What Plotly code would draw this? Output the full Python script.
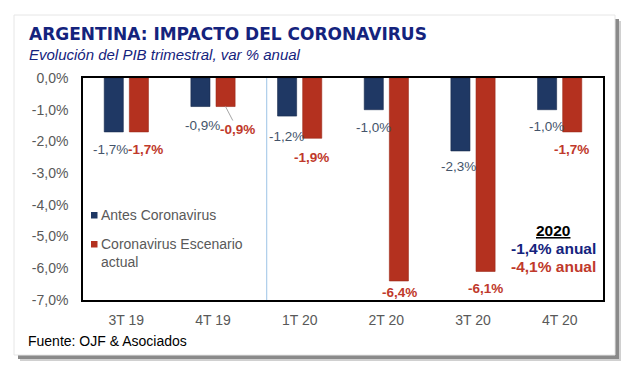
import plotly.graph_objects as go

# ---- data ----
categories = ["3T 19", "4T 19", "1T 20", "2T 20", "3T 20", "4T 20"]
antes = [-1.7, -0.9, -1.2, -1.0, -2.3, -1.0]
escenario = [-1.7, -0.9, -1.9, -6.4, -6.1, -1.7]
y_tickvals = [0, -1, -2, -3, -4, -5, -6, -7]
y_ticktext = ["0,0%", "-1,0%", "-2,0%", "-3,0%", "-4,0%", "-5,0%", "-6,0%", "-7,0%"]
series_names = ["Antes Coronavirus", "Coronavirus Escenario<br>actual"]

# label pixel offsets (style only)
blue_dx = [-16, -11, -13, -13, -15, -13]
blue_dy = [18, 19, 20, 18, 16, 17]
red_dx = [19, 12, 12, 13, 12, 12]
red_dy = [18, 23, 19, 12, 17, 18]
leader = [False, True, False, False, False, False]

BLUE = "#1f3864"
RED = "#b4311f"
BLUE_TXT = "#44546a"
RED_TXT = "#c0392b"
GRAY = "#595959"
NAVY = "#14237d"

W, H = 630, 370
ML, MR, MT, MB = 83, 27, 78, 70
PW = W - ML - MR
PH = H - MT - MB


def px(x):
    return (x - ML) / PW


def py(y):
    return (H - MB - y) / PH


def fmt(v):
    return ("%.1f%%" % v).replace(".", ",")


fig = go.Figure()
fig.add_trace(go.Bar(x=categories, y=antes, name=series_names[0],
                     marker=dict(color=BLUE, line=dict(color="#172a4d", width=0.6))))
fig.add_trace(go.Bar(x=categories, y=escenario, name=series_names[1],
                     marker=dict(color=RED, line=dict(color="#9c2a1a", width=0.6))))

LBL_FONT = "Liberation Sans, Arial"
ann = []
for i, c in enumerate(categories):
    ann.append(dict(x=c, y=antes[i], xref="x", yref="y", text=fmt(antes[i]),
                    showarrow=False, xshift=blue_dx[i], yshift=-blue_dy[i],
                    font=dict(family=LBL_FONT, size=13.5, color=BLUE_TXT)))
    if leader[i]:
        ann.append(dict(x=c, y=escenario[i], xref="x", yref="y", text="<b>" + fmt(escenario[i]) + "</b>",
                        showarrow=True, arrowhead=0, arrowwidth=1, arrowcolor="#a6a6a6",
                        ax=red_dx[i], ay=red_dy[i], xshift=12.5, standoff=0,
                        font=dict(family=LBL_FONT, size=13.5, color=RED_TXT)))
    else:
        ann.append(dict(x=c, y=escenario[i], xref="x", yref="y", text="<b>" + fmt(escenario[i]) + "</b>",
                        showarrow=False, xshift=red_dx[i], yshift=-red_dy[i],
                        font=dict(family=LBL_FONT, size=13.5, color=RED_TXT)))

# titles
ann.append(dict(x=px(27), y=py(34), xref="paper", yref="paper", xanchor="left", yanchor="middle",
                text="<b>ARGENTINA: IMPACTO DEL CORONAVIRUS</b>", showarrow=False,
                font=dict(family="DejaVu Sans", size=17, color=NAVY)))
ann.append(dict(x=px(27), y=py(55), xref="paper", yref="paper", xanchor="left", yanchor="middle",
                text="<i>Evolución del PIB trimestral, var % anual</i>", showarrow=False,
                font=dict(family="Liberation Sans, Arial", size=15, color=NAVY)))
ann.append(dict(x=px(26), y=py(341), xref="paper", yref="paper", xanchor="left", yanchor="middle",
                text="Fuente: OJF & Asociados", showarrow=False,
                font=dict(family="Liberation Sans, Arial", size=14, color="#000000")))

# legend (custom)
ann.append(dict(x=px(99), y=py(215), xref="paper", yref="paper", xanchor="left", yanchor="middle",
                text=series_names[0], showarrow=False,
                font=dict(family="Liberation Sans, Arial", size=14, color=GRAY)))
ann.append(dict(x=px(99), y=py(252.5), xref="paper", yref="paper", xanchor="left", yanchor="middle",
                text=series_names[1], showarrow=False, align="left",
                font=dict(family="Liberation Sans, Arial", size=14, color=GRAY)))

# 2020 summary
ann.append(dict(x=px(553), y=py(230), xref="paper", yref="paper", xanchor="center", yanchor="middle",
                text="<b><u>2020</u></b>", showarrow=False,
                font=dict(family="Liberation Sans, Arial", size=15.5, color="#000000")))
ann.append(dict(x=px(553), y=py(248.5), xref="paper", yref="paper", xanchor="center", yanchor="middle",
                text="<b>-1,4% anual</b>", showarrow=False,
                font=dict(family="Liberation Sans, Arial", size=15.5, color=NAVY)))
ann.append(dict(x=px(553), y=py(266), xref="paper", yref="paper", xanchor="center", yanchor="middle",
                text="<b>-4,1% anual</b>", showarrow=False,
                font=dict(family="Liberation Sans, Arial", size=15.5, color=RED_TXT)))

shapes = [
    # card shadow
    dict(type="rect", xref="paper", yref="paper", x0=px(20), x1=px(621), y0=py(21), y1=py(361),
         fillcolor="#d0d0d0", line=dict(width=0), layer="below"),
    dict(type="rect", xref="paper", yref="paper", x0=px(18), x1=px(619), y0=py(19), y1=py(359),
         fillcolor="#8a8a8a", line=dict(width=0), layer="below"),
    # card
    dict(type="rect", xref="paper", yref="paper", x0=px(14), x1=px(615), y0=py(15), y1=py(355),
         fillcolor="#ffffff", line=dict(color="#e6e6e6", width=1), layer="below"),
    # legend swatches
    dict(type="rect", xref="paper", yref="paper", x0=px(91), x1=px(97.5), y0=py(212), y1=py(218.5),
         fillcolor=BLUE, line=dict(width=0)),
    dict(type="rect", xref="paper", yref="paper", x0=px(91), x1=px(97.5), y0=py(241), y1=py(247.5),
         fillcolor=RED, line=dict(width=0)),
    # separator line
    dict(type="line", xref="x", yref="paper", x0=1.62, x1=1.62, y0=0, y1=1,
         line=dict(color="#9dc3e6", width=1), layer="above"),
]

fig.update_layout(
    width=W, height=H,
    margin=dict(l=ML, r=MR, t=MT, b=MB),
    paper_bgcolor="#ffffff",
    plot_bgcolor="rgba(0,0,0,0)",
    barmode="group", bargap=0.42, bargroupgap=0.24,
    showlegend=False,
    annotations=ann,
    shapes=shapes,
    xaxis=dict(showgrid=False, zeroline=False, showline=True, linecolor="#000000", linewidth=1.5,
               mirror=True, ticks="", ticklabelstandoff=6,
               tickfont=dict(family="Liberation Sans, Arial", size=14, color=GRAY)),
    yaxis=dict(range=[-7, 0], tickvals=y_tickvals, ticktext=y_ticktext, showgrid=False,
               zeroline=False, showline=True, linecolor="#000000", linewidth=1.5, mirror=True,
               ticks="", ticklabelstandoff=10,
               tickfont=dict(family="Liberation Sans, Arial", size=14, color=GRAY)),
)

fig.write_html("out.html", config={"displayModeBar": False},
               post_script="document.body.style.margin='0px';document.body.style.padding='0px';")
